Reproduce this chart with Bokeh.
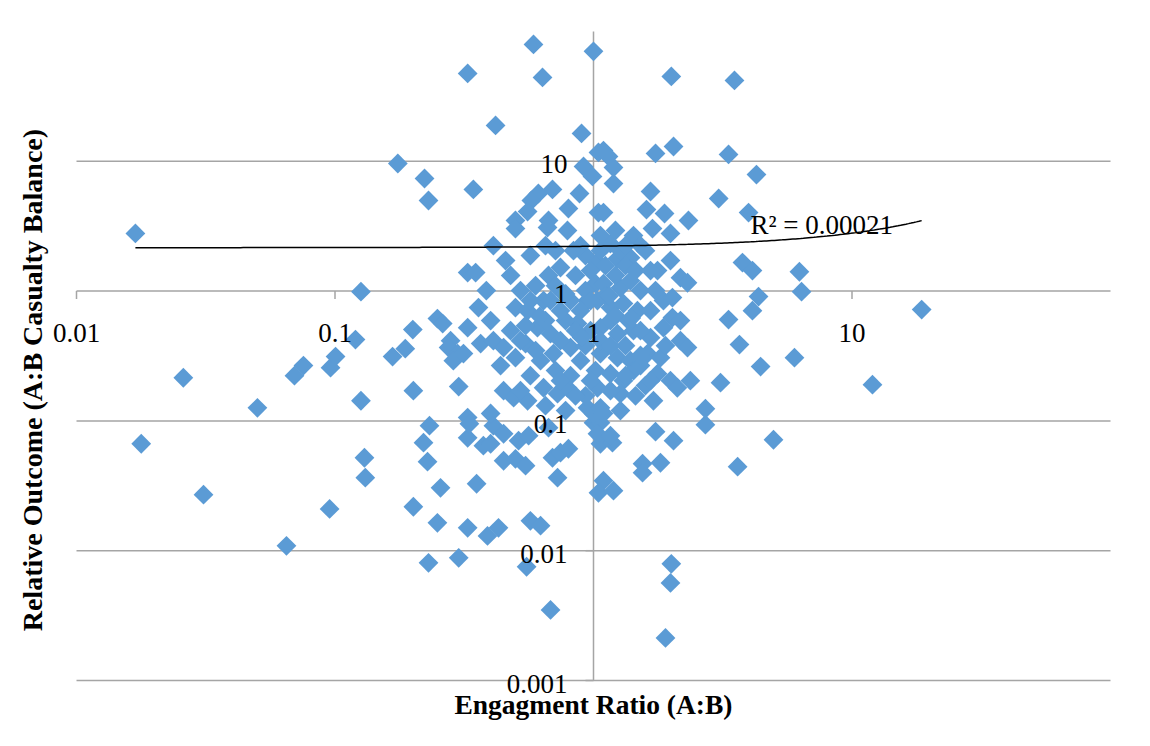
import numpy as np
from bokeh.plotting import figure
from bokeh.models import Label, LabelSet, ColumnDataSource
from bokeh.core.properties import value
from bokeh.embed import file_html
from bokeh.resources import INLINE

# ---------------- data ----------------
engagement_ratio = [
    0.586, 1.0, 0.326, 0.635, 2.00, 3.51, 0.418, 0.899, 0.175, 0.222,
    0.230, 0.343, 0.915, 0.991, 1.045, 0.694, 0.883, 0.612, 0.575, 0.556,
    0.800, 1.045, 0.499, 0.670, 1.093, 1.143, 1.738, 2.04, 3.33, 1.195,
    1.195, 4.27, 1.662, 3.05, 1.093, 1.603, 1.883, 2.33, 3.98, 3.77,
    4.12, 6.26, 4.35, 6.38, 4.12, 3.33, 3.67, 4.43, 5.99, 3.10,
    4.97, 3.61, 18.6, 12.0, 0.0169, 0.0259, 0.0501, 0.0178, 0.0310, 0.0649,
    0.0953, 0.0697, 0.0755, 0.0961, 0.1005, 0.126, 0.120, 0.200, 0.167, 0.187,
    0.249, 0.261, 0.280, 0.275, 0.298, 0.287, 0.326, 0.201, 0.301, 0.126,
    0.232, 0.220, 0.228, 0.130, 0.131, 0.256, 0.201, 0.249, 0.326, 0.326,
    0.326, 0.326, 0.230, 0.301, 0.331, 0.410, 0.375, 0.400, 0.513, 0.561,
    0.449, 0.499, 0.546, 0.694, 0.745, 0.800, 0.726, 0.353, 0.670, 1.0,
    1.064, 1.064, 1.184, 1.738, 2.04, 2.71, 1.548, 1.548, 1.816, 1.093,
    1.045, 1.195, 0.389, 0.429, 0.570, 0.624, 0.551, 0.682, 2.00, 1.985,
    1.899, 0.499, 0.664, 0.410, 0.350, 0.478, 0.385, 0.359, 0.400, 0.499,
    0.556, 0.366, 0.410, 0.449, 0.437, 0.314, 0.499, 0.546, 0.641, 0.607,
    0.682, 0.700, 0.815, 0.449, 0.491, 0.556, 0.641, 0.726, 0.793, 0.948,
    1.0, 0.400, 0.449, 0.867, 0.948, 1.018, 0.745, 0.837, 0.793, 1.691,
    1.428, 1.985, 1.163, 1.036, 1.238, 1.390, 1.769, 1.985, 2.17, 2.31,
    1.865, 2.02, 1.093, 1.271, 1.390, 1.036, 1.163, 1.306, 1.479, 1.662,
    2.02, 2.17, 1.064, 1.238, 1.428, 1.662, 1.865, 2.17, 2.31, 1.064,
    1.238, 1.390, 1.618, 1.816, 1.163, 1.306, 1.428, 1.769, 1.985, 2.11,
    2.37, 1.036, 1.064, 1.271, 1.706, 1.093, 2.71, 1.036, 1.163, 0.745,
    0.852, 0.931, 1.112, 1.216, 1.33, 1.52, 0.891, 0.780, 0.974, 1.163,
    1.33, 0.891, 1.018, 0.815, 1.589, 0.713, 0.624, 0.570, 0.652, 0.570,
    0.713, 0.522, 0.597, 0.670, 0.457, 0.546, 0.478, 1.52, 1.738, 1.52,
    0.931, 0.682, 0.745, 0.815, 0.852, 0.745, 0.652, 0.931, 1.064, 0.974,
    1.112, 1.216, 1.366, 1.52, 1.163, 1.33, 1.52, 0.852, 0.745, 0.974,
    1.163, 1.454, 0.931, 1.064, 1.271, 1.454, 0.974, 0.713, 0.570, 0.522,
    0.597, 0.522, 0.652, 0.780, 1.271, 1.662, 1.899, 1.662, 1.589, 1.216,
    0.891, 1.064, 1.33, 0.780, 1.15, 1.40, 0.62, 0.90,
]
casualty_balance = [
    79.5, 70.3, 47.5, 44.3, 45.1, 42.0, 18.9, 16.4, 9.62, 7.37,
    4.99, 6.07, 9.12, 7.64, 11.7, 6.07, 5.65, 5.65, 4.99, 4.10,
    4.33, 4.03, 3.50, 3.50, 12.1, 10.9, 11.5, 13.0, 11.3, 8.96,
    6.74, 7.90, 5.85, 5.17, 4.03, 4.25, 3.96, 3.50, 4.03, 1.66,
    1.44, 1.41, 0.907, 0.99, 0.707, 0.603, 0.387, 0.262, 0.307, 0.197,
    0.0716, 0.0444, 0.720, 0.190, 2.78, 0.215, 0.126, 0.0667, 0.0270, 0.0109,
    0.0210, 0.223, 0.267, 0.257, 0.313, 0.99, 0.423, 0.505, 0.313, 0.360,
    0.614, 0.562, 0.415, 0.367, 0.330, 0.291, 0.523, 0.171, 0.184, 0.143,
    0.0918, 0.0679, 0.0485, 0.0520, 0.0365, 0.0305, 0.0218, 0.0164, 0.0150, 0.106,
    0.0741, 1.39, 0.00807, 0.00881, 0.0951, 0.0918, 0.0644, 0.0667, 0.0704, 0.0769,
    0.0493, 0.0510, 0.0452, 0.0520, 0.0569, 0.0610, 0.0365, 0.0328, 0.0887, 0.0969,
    0.0969, 0.0667, 0.0679, 0.0826, 0.0704, 0.0935, 0.0468, 0.0399, 0.0476, 0.0346,
    0.0279, 0.0290, 0.0130, 0.0150, 0.0170, 0.0156, 0.00752, 0.00350, 0.00792, 0.00565,
    0.00213, 3.03, 3.09, 2.24, 1.39, 1.32, 1.01, 0.746, 0.593, 0.746,
    0.707, 0.394, 0.415, 0.367, 0.267, 0.330, 0.307, 0.394, 0.845, 0.523,
    0.470, 0.330, 0.367, 0.171, 0.151, 0.143, 0.180, 0.162, 0.180, 0.126,
    0.114, 0.114, 0.0796, 0.562, 0.845, 1.14, 1.52, 2.05, 2.93, 3.03,
    2.68, 2.78, 2.32, 1.66, 1.78, 1.81, 1.44, 1.72, 1.27, 1.16,
    0.845, 0.891, 1.14, 1.06, 1.20, 0.845, 0.746, 0.801, 0.707, 0.707,
    0.625, 0.593, 0.523, 0.470, 0.496, 0.438, 0.523, 0.415, 0.367, 0.330,
    0.307, 0.291, 0.330, 0.307, 0.231, 0.204, 0.244, 0.231, 0.204, 0.180,
    0.204, 0.180, 0.126, 0.162, 0.143, 0.114, 0.124, 0.0796, 0.0769, 1.01,
    1.32, 1.01, 1.57, 1.32, 1.57, 2.24, 0.707, 0.593, 0.496, 0.593,
    0.380, 0.291, 0.244, 0.223, 0.187, 0.244, 0.291, 0.223, 2.24, 1.88,
    2.05, 1.01, 1.10, 1.32, 1.72, 0.542, 0.496, 1.01, 1.01, 0.267,
    0.156, 0.845, 0.707, 0.845, 0.496, 0.415, 0.593, 0.380, 0.415, 0.845,
    0.924, 0.648, 0.593, 0.496, 0.380, 0.223, 0.319, 0.156, 0.204, 0.204,
    0.171, 0.156, 1.88, 2.05, 2.05, 1.44, 1.44, 1.10, 0.845, 0.415,
    0.348, 0.171, 0.131, 0.120, 0.120, 0.204, 0.380, 1.44, 2.05, 2.93,
    2.24, 2.68, 2.24, 0.95, 0.92, 0.62, 0.64, 0.44,
]

x_tick_values = [0.01, 0.1, 1, 10]
x_tick_labels = ["0.01", "0.1", "1", "10"]
y_tick_values = [0.001, 0.01, 0.1, 1, 10]
y_tick_labels = ["0.001", "0.01", "0.1", "1", "10"]
grid_values = [0.001, 0.01, 0.1, 1, 10]
x_axis_min, x_axis_max = 0.01, 100
y_axis_min, y_axis_max = 0.001, 100

# exponential trendline y = a * exp(b * x), as shown on the chart
trend_a = 2.16
trend_b = 0.0258
r_squared_text = "R\u00b2 = 0.00021"

x_title = "Engagment Ratio (A:B)"
y_title = "Relative Outcome (A:B Casualty Balance)"

# ---------------- layout ----------------
W, H = 1134, 730
PL, PR, PT, PB = 76, 1110, 31, 680      # plot-area edges in canvas pixels
X_DEC = (PR - PL) / np.log10(x_axis_max / x_axis_min)
Y_DEC = (PB - PT) / np.log10(y_axis_max / y_axis_min)
x_lo = x_axis_min * 10 ** (-PL / X_DEC)
x_hi = x_axis_max * 10 ** ((W - PR) / X_DEC)
y_lo = y_axis_min * 10 ** (-(H - PB) / Y_DEC)
y_hi = y_axis_max * 10 ** (PT / Y_DEC)

FONT = "Liberation Serif"
GRID_COLOR = "#A5A5A5"
MARKER_COLOR = "#5B9BD5"

p = figure(width=W, height=H, x_axis_type="log", y_axis_type="log",
           x_range=(x_lo, x_hi), y_range=(y_lo, y_hi),
           x_axis_location=None, y_axis_location=None,
           toolbar_location=None, output_backend="svg",
           min_border=0)
p.grid.visible = False
p.outline_line_color = None
p.background_fill_color = "white"
p.border_fill_color = "white"

# horizontal gridlines (the one at 1 is the x axis line)
n = len(grid_values)
p.segment(x0=[x_axis_min] * n, y0=grid_values, x1=[x_axis_max] * n, y1=grid_values,
          line_color=GRID_COLOR, line_width=1.5)
# vertical axis line at x = 1
p.segment(x0=[1], y0=[y_axis_min], x1=[1], y1=[y_axis_max],
          line_color=GRID_COLOR, line_width=1.5)

# tick marks (8 px long, pointing outward)
tick_px = 8
xt_low = 10 ** (-tick_px / Y_DEC)
p.segment(x0=x_tick_values, y0=[1] * len(x_tick_values),
          x1=x_tick_values, y1=[xt_low] * len(x_tick_values),
          line_color=GRID_COLOR, line_width=1.5)
yt_left = 10 ** (-tick_px / X_DEC)
p.segment(x0=[1] * len(y_tick_values), y0=y_tick_values,
          x1=[yt_left] * len(y_tick_values), y1=y_tick_values,
          line_color=GRID_COLOR, line_width=1.5)

# scatter (diamonds = rotated squares)
src = ColumnDataSource(dict(x=engagement_ratio, y=casualty_balance))
p.scatter("x", "y", source=src, marker="square", size=14, angle=np.pi / 4,
          fill_color=MARKER_COLOR, line_color=None)

# trendline
tx = np.geomspace(min(engagement_ratio), max(engagement_ratio), 300)
ty = trend_a * np.exp(trend_b * tx)
p.line(tx, ty, line_color="black", line_width=1.5)

# tick labels
xsrc = ColumnDataSource(dict(x=x_tick_values, y=[1] * len(x_tick_values), t=x_tick_labels))
p.add_layout(LabelSet(x="x", y="y", text="t", source=xsrc, y_offset=-42,
                      text_align="center", text_baseline="middle",
                      text_font=value(FONT), text_font_size=value("27px"),
                      text_color="black"))
ysrc = ColumnDataSource(dict(x=[1] * len(y_tick_values), y=y_tick_values, t=y_tick_labels))
p.add_layout(LabelSet(x="x", y="y", text="t", source=ysrc, x_offset=-26, y_offset=-3,
                      text_align="right", text_baseline="middle",
                      text_font=value(FONT), text_font_size=value("27px"),
                      text_color="black"))

# R^2 label
p.add_layout(Label(x=1, y=1, x_offset=157, y_offset=66, text=r_squared_text,
                   text_align="left", text_baseline="middle",
                   text_font=FONT, text_font_size="27px", text_color="black"))

# axis titles
p.add_layout(Label(x=1, y=y_axis_min, y_offset=-24, text=x_title,
                   text_align="center", text_baseline="middle",
                   text_font=FONT, text_font_style="bold", text_font_size="27.5px",
                   text_color="black"))
p.add_layout(Label(x=x_axis_min, y=1, x_offset=-44, y_offset=-89, angle=np.pi / 2,
                   text=y_title, text_align="center", text_baseline="middle",
                   text_font=FONT, text_font_style="bold", text_font_size="28px",
                   text_color="black"))

open("out.html", "w").write(file_html(p, INLINE))
